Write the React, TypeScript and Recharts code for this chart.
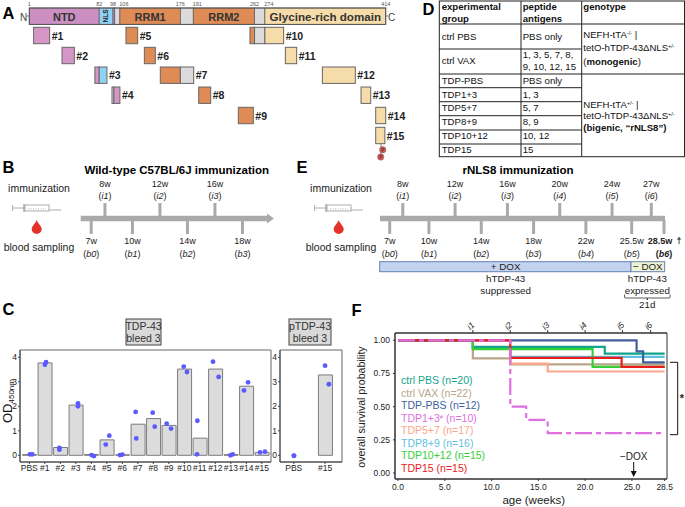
import {
  Bar,
  ComposedChart,
  Line,
  LineChart,
  ReferenceArea,
  Scatter,
  XAxis,
  YAxis,
} from "recharts";

const FONT = '"Liberation Sans", Arial, sans-serif';

// panel C: ELISA values, TDP-43 bleed 3
const peptideLabels = ["PBS", "#1", "#2", "#3", "#4", "#5", "#6", "#7", "#8", "#9", "#10", "#11", "#12", "#13", "#14", "#15"];
const peptideMeans = [0.03, 3.77, 0.32, 2.05, 0.03, 0.63, 0.02, 1.27, 1.5, 1.22, 3.52, 0.7, 3.52, 0.03, 2.82, 0.12];
const dotX = [
  0.04, 0.19, 1.01, 1.08, 1.94, 1.94, 3.14, 3.14, 4.02, 4.17, 4.93, 5.16, 5.85, 6, 6.86, 6.9,
  7.96, 8.09, 8.86, 9.14, 9.96, 10.17, 10.84, 10.82, 11.85, 12.21, 12.97, 13.12, 13.85, 14.11, 14.88, 15.2,
];
const dotY = [
  0.04, 0.04, 3.7, 3.8, 0.3, 0.23, 2.12, 2.0, 0.01, -0.03, 0.44, 0.8, 0.01, 0.03, 1.77, 0.69,
  1.74, 1.17, 1.29, 1.09, 3.62, 3.4, 1.41, 0.04, 3.82, 3.2, 0, 0.04, 2.65, 2.98, 0.12, 0.15,
];

// panel C: pTDP-43 bleed 3
const pLabels = ["PBS", "#15"];
const pMeans = [0, 3.28];
const pDotX = [0, 0.01, 1, 1.12];
const pDotY = [-0.01, -0.02, 3.66, 2.9];

// panel F: survival curves
const survivalSeries = [
  { name: "ctrl VAX (n=22)", color: "#b8a58a", t: [0, 8, 12, 28.5], s: [1, 0.864, 0.818, 0.818] },
  { name: "TDP5+7 (n=17)", color: "#fda58a", t: [0, 8, 12, 16, 28.5], s: [1, 0.941, 0.824, 0.765, 0.765] },
  { name: "TDP8+9 (n=16)", color: "#5fc0e0", t: [0, 8, 12, 28.5], s: [1, 0.938, 0.875, 0.875] },
  { name: "ctrl PBS (n=20)", color: "#12a58c", t: [0, 8, 22.1, 28.5], s: [1, 0.95, 0.9, 0.9] },
  { name: "TDP10+12 (n=15)", color: "#35d035", t: [0, 8, 20.8, 28.5], s: [1, 0.933, 0.8, 0.8] },
  { name: "TDP-PBS (n=12)", color: "#415f9e", t: [0, 25.5, 26.2, 28.5], s: [1, 0.917, 0.833, 0.833] },
  { name: "TDP15 (n=15)", color: "#ea1c1c", t: [0, 12, 23.9, 28.5], s: [1, 0.867, 0.8, 0.8] },
  { name: "TDP1+3# (n=10)", color: "#e070e0", t: [0, 12, 13.7, 16, 28.5], s: [1, 0.5, 0.4, 0.3, 0.3], dash: "17 4 5 4" },
];
const legendOrder = ["ctrl PBS (n=20)", "ctrl VAX (n=22)", "TDP-PBS (n=12)", "TDP1+3# (n=10)", "TDP5+7 (n=17)", "TDP8+9 (n=16)", "TDP10+12 (n=15)", "TDP15 (n=15)"];
const ageTicks = [0, 5, 10, 15, 20, 25, 28.5];
const immunTicks = [8, 12, 16, 20, 24, 27];
const survivalTicks = [0, 0.25, 0.5, 0.75, 1];

// panel A: TDP-43 domains in residues
const domains = [
  { from: 1, to: 82, fill: "#cc8fc2", label: "NTD" },
  { from: 82, to: 98, fill: "#8fd2f4", label: "" },
  { from: 98, to: 100, fill: "#cc8fc2", label: "" },
  { from: 100, to: 106, fill: "#dcdada", label: "" },
  { from: 106, to: 176, fill: "#de8b55", label: "RRM1" },
  { from: 176, to: 191, fill: "#dcdada", label: "" },
  { from: 191, to: 262, fill: "#de8b55", label: "RRM2" },
  { from: 262, to: 274, fill: "#dcdada", label: "" },
  { from: 274, to: 414, fill: "#f6dca8", label: "Glycine-rich domain" },
];
const domainNumbers = [1, 82, 98, 106, 176, 191, 262, 274, 414];
const PINK = "#d596c6";
const BLUE = "#8fd2f4";
const ORANGE = "#de8b55";
const GREY = "#dcdada";
const CREAM = "#f6dca8";
const peptides = [
  { label: "#1", row: 0, parts: [[6, 24.6, PINK]] },
  { label: "#2", row: 1, parts: [[38.9, 53.2, PINK]] },
  { label: "#3", row: 2, parts: [[77, 82, PINK], [82, 91, BLUE]] },
  { label: "#4", row: 3, parts: [[96.8, 99, GREY], [99, 106, PINK]] },
  { label: "#5", row: 0, parts: [[113, 126.6, ORANGE]] },
  { label: "#6", row: 1, parts: [[134.3, 147, ORANGE]] },
  { label: "#7", row: 2, parts: [[152.8, 176, ORANGE], [176, 191.5, GREY]] },
  { label: "#8", row: 3, parts: [[197.3, 211.2, ORANGE]] },
  { label: "#9", row: 4, parts: [[243.2, 260.6, ORANGE]] },
  { label: "#10", row: 0, parts: [[256.7, 262, ORANGE], [262, 274, GREY], [274, 295.7, CREAM]] },
  { label: "#11", row: 1, parts: [[297.7, 310.8, CREAM]] },
  { label: "#12", row: 2, parts: [[340.6, 378.8, CREAM]] },
  { label: "#13", row: 3, parts: [[385.4, 396.6, CREAM]] },
  { label: "#14", row: 4, parts: [[402.4, 414, CREAM]] },
  { label: "#15", row: 5, parts: [[402.4, 413, CREAM]] },
];

// panels B and E: schedules in weeks
const wtImmun = [8, 12, 16];
const wtBleed = [7, 10, 14, 18];
const rnlsImmun = [8, 12, 16, 20, 24, 27];
const rnlsBleed = [7, 10, 14, 18, 22, 25.5, 28.5];

// panel D: table text
const tableGroups = ["ctrl PBS", "ctrl VAX", "TDP-PBS", "TDP1+3", "TDP5+7", "TDP8+9", "TDP10+12", "TDP15"];
const tableAntigens = ["PBS only", "", "PBS only", "1, 3", "5, 7", "8, 9", "10, 12", "15"];
const tableBaselines = [40, 64, 84, 97.7, 111, 125, 139, 152.7];
const tableRules = [24, 49, 74, 87.7, 101.7, 115.7, 130, 144];

const barData = peptideLabels.map((label, i) => ({ x: i, od: peptideMeans[i], label }));
const dotData = dotX.map((x, i) => ({ x, od: dotY[i] }));
const pBarData = pLabels.map((label, i) => ({ x: i, od: pMeans[i], label }));
const pDotData = pDotX.map((x, i) => ({ x, od: pDotY[i] }));
const immunData = immunTicks.map((t) => ({ t, s: 1 }));

const Dot = (props: any) => <circle cx={props.cx} cy={props.cy} r={2.4} fill="#5a5aff" />;
const axisTick = { fontSize: 8.5, fill: "#222", fontFamily: FONT };

function Elisa({ left, width, yWidth, right, data, dots, labels, domain }: any) {
  return (
    <div style={{ position: "absolute", left, top: 340 }}>
      <ComposedChart width={width} height={135} data={data} margin={{ top: 10, right, bottom: 0, left: 0 }}>
        <XAxis
          xAxisId="bars"
          dataKey="x"
          type="number"
          domain={domain}
          ticks={labels.map((_: string, i: number) => i)}
          tickFormatter={(v: number) => labels[v]}
          interval={0}
          height={13}
          tick={axisTick}
          tickSize={2}
          tickMargin={1}
          stroke="#444"
        />
        <XAxis xAxisId="dots" dataKey="x" type="number" domain={domain} hide />
        <YAxis
          type="number"
          domain={[-0.273, 4.298]}
          ticks={[0, 1, 2, 3, 4]}
          width={yWidth}
          tick={axisTick}
          tickSize={2}
          tickMargin={1}
          stroke="#444"
        />
        <ReferenceArea xAxisId="bars" x1={domain[0]} x2={domain[1]} y1={-0.273} y2={4.298} fill="none" stroke="#666" strokeWidth={1} />
        <Bar xAxisId="bars" dataKey="od" barSize={14} fill="#dcdcdc" stroke="#7c7c7c" strokeWidth={1} isAnimationActive={false} />
        <Scatter xAxisId="dots" data={dots} dataKey="od" shape={Dot} isAnimationActive={false} />
      </ComposedChart>
    </div>
  );
}

function Survival() {
  return (
    <div style={{ position: "absolute", left: 345, top: 310 }}>
      <LineChart width={330} height={184} margin={{ top: 0, right: 8, bottom: 0, left: 0 }}>
        <XAxis
          xAxisId="age"
          dataKey="t"
          type="number"
          domain={[-0.32, 28.75]}
          ticks={ageTicks}
          interval={0}
          tickFormatter={(v: number) => v.toFixed(1)}
          height={15}
          tick={axisTick}
          tickSize={2}
          tickMargin={3}
          stroke="#333"
        />
        <XAxis
          xAxisId="immun"
          orientation="top"
          dataKey="t"
          type="number"
          domain={[-0.32, 28.75]}
          ticks={immunTicks}
          interval={0}
          tickFormatter={(v: number) => `i${immunTicks.indexOf(v) + 1}`}
          height={23}
          angle={-45}
          tick={{ ...axisTick, fontStyle: "italic" }}
          tickSize={3}
          tickMargin={2}
          stroke="#333"
        />
        <YAxis
          type="number"
          domain={[-0.045, 1.055]}
          ticks={survivalTicks}
          interval={0}
          tickFormatter={(v: number) => v.toFixed(2)}
          width={50}
          tick={axisTick}
          tickSize={2}
          tickMargin={3}
          stroke="#333"
        />
        <ReferenceArea xAxisId="age" x1={-0.32} x2={28.75} y1={-0.045} y2={1.055} fill="none" stroke="#333" strokeWidth={1} />
        <Line xAxisId="immun" data={immunData} dataKey="s" stroke="none" dot={false} isAnimationActive={false} />
        {survivalSeries.map((c) => (
          <Line
            key={c.name}
            xAxisId="age"
            data={c.t.map((t, i) => ({ t, s: c.s[i] }))}
            dataKey="s"
            type="stepAfter"
            stroke={c.color}
            strokeWidth={2.2}
            strokeDasharray={c.dash}
            dot={false}
            isAnimationActive={false}
          />
        ))}
      </LineChart>
    </div>
  );
}

// residue -> px for panel A
const resX = (r: number) => 29.3 + (r - 1) * 0.863;

function PanelA() {
  const rowY = [27.3, 47.3, 67, 87, 107.3, 127.3];
  return (
    <g fontFamily={FONT}>
      <text x={20} y={20.5} fontSize={10} fill="#444">N</text>
      <line x1={26.5} x2={29.3} y1={16} y2={16} stroke="#555" strokeWidth={0.8} />
      {domains.map((d) => (
        <rect key={d.from} x={resX(d.from)} y={8} width={resX(d.to) - resX(d.from)} height={16.4} fill={d.fill} stroke="#555" strokeWidth={0.7} />
      ))}
      <rect x={resX(1)} y={8} width={resX(414) - resX(1)} height={16.4} fill="none" stroke="#555" strokeWidth={1} />
      {domains.filter((d) => d.label).map((d) => (
        <text key={d.label} x={(resX(d.from) + resX(d.to)) / 2} y={20.5} fontSize={d.label.length > 5 ? 11.6 : 11} fontWeight="bold" textAnchor="middle" fill="#333">
          {d.label}
        </text>
      ))}
      <text x={0} y={0} fontSize={6.5} fontWeight="bold" textAnchor="middle" fill="#222" transform={`translate(${(resX(82) + resX(98)) / 2 + 2.2},16) rotate(-90)`}>NLS</text>
      {domainNumbers.map((n) => (
        <text key={n} x={resX(n) + (n === 106 ? 4 : n === 191 ? 4 : n === 274 ? 4 : 0)} y={6} fontSize={5.5} textAnchor="middle" fill="#555">{n}</text>
      ))}
      <line x1={385.7} x2={388} y1={16} y2={16} stroke="#555" strokeWidth={0.8} />
      <text x={388} y={20.5} fontSize={10} fill="#444">C</text>
      {peptides.map((p) => {
        const y = rowY[p.row];
        const last = p.parts[p.parts.length - 1];
        return (
          <g key={p.label}>
            {p.parts.map((part: any) => (
              <rect key={part[0]} x={resX(part[0])} y={y} width={resX(part[1]) - resX(part[0])} height={16.4} fill={part[2]} stroke="#666" strokeWidth={1} />
            ))}
            <text x={resX(last[1] as number) + 2} y={y + 12.2} fontSize={10.5} fontWeight="bold" fill="#222">{p.label}</text>
          </g>
        );
      })}
      <line x1={381} x2={381} y1={143.7} y2={156} stroke="#666" strokeWidth={0.8} />
      <circle cx={382.7} cy={149.7} r={3.2} fill="#e25a50" stroke="#666" strokeWidth={0.5} />
      <text x={382.7} y={151.5} fontSize={4.5} textAnchor="middle" fill="#222">P</text>
      <circle cx={380.7} cy={157} r={3.2} fill="#e25a50" stroke="#666" strokeWidth={0.5} />
      <text x={380.7} y={158.8} fontSize={4.5} textAnchor="middle" fill="#222">P</text>
    </g>
  );
}

function Syringe({ x }: { x: number }) {
  return (
    <g stroke="#999" strokeWidth={0.8} fill="none" transform={`translate(${x},0)`}>
      <line x1={12.5} x2={12.5} y1={205} y2={211} />
      <line x1={12.5} x2={24} y1={208} y2={208} />
      <line x1={24} x2={24} y1={204} y2={212} strokeWidth={1.2} />
      <rect x={25} y={205} width={24} height={6} />
      <line x1={28} x2={46} y1={209} y2={209} strokeDasharray="1 1.5" />
      <line x1={49} x2={61} y1={210} y2={210} />
    </g>
  );
}

function Drop({ x, y }: { x: number; y: number }) {
  return (
    <path
      d={`M${x} ${y - 7} C${x + 1.5} ${y - 3} ${x + 5} ${y - 1} ${x + 5} ${y + 2} A5 5 0 0 1 ${x - 5} ${y + 2} C${x - 5} ${y - 1} ${x - 1.5} ${y - 3} ${x} ${y - 7}Z`}
      fill="#e6302a"
    />
  );
}

function Timeline({ weekX, immun, bleed, barFrom, barTo, arrow, centre, boldLast }: any) {
  const barY = 218.5;
  return (
    <g fontFamily={FONT} fill="#222">
      <line x1={barFrom} x2={barTo} y1={barY} y2={barY} stroke="#aaa" strokeWidth={5.5} />
      {arrow && <polygon points={`${barTo},${barY - 5} ${barTo + 7},${barY} ${barTo},${barY + 5}`} fill="#aaa" />}
      {immun.map((w: number, i: number) => (
        <g key={w} textAnchor="middle">
          <line x1={weekX(w)} x2={weekX(w)} y1={203} y2={217} stroke="#aaa" strokeWidth={3} />
          <text x={weekX(w)} y={186.5} fontSize={9}>{w}w</text>
          <text x={weekX(w)} y={199} fontSize={9}>(<tspan fontStyle="italic">i{i + 1}</tspan>)</text>
        </g>
      ))}
      {bleed.map((w: number, i: number) => {
        const bold = boldLast && i === bleed.length - 1;
        return (
          <g key={w} textAnchor="middle" fontWeight={bold ? "bold" : "normal"}>
            <line x1={weekX(w)} x2={weekX(w)} y1={220} y2={234} stroke="#aaa" strokeWidth={3} />
            <text x={weekX(w) - (bold ? 4 : 0)} y={244} fontSize={9}>{w}w</text>
            <text x={weekX(w)} y={256.5} fontSize={9}>(<tspan fontStyle="italic">b{i}</tspan>)</text>
          </g>
        );
      })}
      <g fontSize={10.5} textAnchor="middle">
        <text x={centre} y={192}>immunization</text>
        <text x={centre} y={250.5}>blood sampling</text>
      </g>
      <Syringe x={centre - 39} />
      <Drop x={centre - 2.3} y={227} />
    </g>
  );
}

function PanelD() {
  const hLeft = 439.3;
  const c2 = 521;
  const c3 = 581.7;
  const right = 684.5;
  const tx = { fontSize: 9.6, fill: "#111" };
  const sup = { fontSize: 5.5, dy: -3 };
  return (
    <g fontFamily={FONT} {...tx}>
      <rect x={hLeft} y={1} width={right - hLeft} height={155.7} fill="none" stroke="#222" strokeWidth={1} />
      <line x1={c2} x2={c2} y1={1} y2={156.7} stroke="#222" />
      <line x1={c3} x2={c3} y1={1} y2={156.7} stroke="#222" />
      {tableRules.map((y) => (
        <line key={y} x1={hLeft} x2={y === 24 || y === 74 ? right : c3} y1={y} y2={y} stroke="#222" />
      ))}
      <g fontWeight="bold">
        <text x={441.7} y={10}>experimental</text>
        <text x={441.7} y={21.5}>group</text>
        <text x={522.7} y={10}>peptide</text>
        <text x={522.7} y={21.5}>antigens</text>
        <text x={583.3} y={10}>genotype</text>
      </g>
      {tableGroups.map((g, i) => (
        <text key={g} x={441.7} y={tableBaselines[i]}>{g}</text>
      ))}
      {tableAntigens.map((a, i) => (
        <text key={i} x={522.7} y={tableBaselines[i]}>{a}</text>
      ))}
      <text x={522.7} y={58}>1, 3, 5, 7, 8,</text>
      <text x={522.7} y={70}>9, 10, 12, 15</text>
      <text x={583.3} y={38}>NEFH-tTA<tspan {...sup}>-/-</tspan><tspan dy={3}> |</tspan></text>
      <text x={583.3} y={51}>tetO-hTDP-43ΔNLS<tspan {...sup}>+/-</tspan></text>
      <text x={583.3} y={65}>(<tspan fontWeight="bold">monogenic</tspan>)</text>
      <text x={583.3} y={108}>NEFH-tTA<tspan {...sup}>+/-</tspan><tspan dy={3}> |</tspan></text>
      <text x={583.3} y={119}>tetO-hTDP-43ΔNLS<tspan {...sup}>+/-</tspan></text>
      <text x={583.3} y={131} fontWeight="bold">(bigenic, “rNLS8”)</text>
    </g>
  );
}

function Annotations() {
  const wtX = (w: number) => 91.2 + (w - 7) * 13.75;
  // the last 3 weeks of the rNLS8 schedule are drawn compressed
  const rnX = (w: number) => (w > 27 ? 664 : 389.7 + (w - 7) * 13.08);
  return (
    <svg width={685} height={507} style={{ position: "absolute", left: 0, top: 0 }}>
      <g fontFamily={FONT} fontWeight="bold" fontSize={16.5} fill="#000">
        <text x={2.5} y={19}>A</text>
        <text x={2.5} y={172.7}>B</text>
        <text x={2.5} y={315}>C</text>
        <text x={422.5} y={14.7}>D</text>
        <text x={296.5} y={172.7}>E</text>
        <text x={351.5} y={315.5}>F</text>
      </g>
      <PanelA />
      <PanelD />
      <text x={176.7} y={174} fontSize={11.5} fontWeight="bold" textAnchor="middle" fontFamily={FONT}>Wild-type C57BL/6J immunization</text>
      <text x={518} y={174} fontSize={11.5} fontWeight="bold" textAnchor="middle" fontFamily={FONT}>rNLS8 immunization</text>
      <Timeline weekX={wtX} immun={wtImmun} bleed={wtBleed} barFrom={80.7} barTo={267} arrow centre={39} />
      <Timeline weekX={rnX} immun={rnlsImmun} bleed={rnlsBleed} barFrom={380} barTo={665} centre={341} boldLast />
      <g fontFamily={FONT} fontSize={9.8} textAnchor="middle" fill="#222">
        <text x={679} y={244} fontSize={9} fontWeight="bold">†</text>
        <rect x={379.7} y={261.7} width={251.3} height={10} fill="#c3d2ee" stroke="#6483b5" />
        <rect x={631} y={261.7} width={33.7} height={10} fill="#eef2d2" stroke="#6483b5" />
        <text x={505.7} y={270}>+ DOX</text>
        <text x={647.8} y={270}>− DOX</text>
        <text x={505.7} y={282}>hTDP-43</text>
        <text x={505.7} y={294}>suppressed</text>
        <text x={647.3} y={282}>hTDP-43</text>
        <text x={647.3} y={294}>expressed</text>
        <text x={647.3} y={308}>21d</text>
        <path d="M624.5 294.5v2.5q0 1 1 1h21.8v2v-2h21.8q1 0 1-1v-2.5" fill="none" stroke="#333" strokeWidth={0.8} />
      </g>
      <g fontFamily={FONT}>
        <rect x={126} y={319} width={35} height={26} fill="#d9d9d9" stroke="#444" strokeWidth={1} />
        <rect x={289} y={319} width={42} height={26} fill="#d9d9d9" stroke="#444" strokeWidth={1} />
        <g fontSize={10.5} textAnchor="middle" fill="#333">
          <text x={143.5} y={330}>TDP-43</text>
          <text x={143.5} y={342}>bleed 3</text>
          <text x={310} y={330}>pTDP-43</text>
          <text x={310} y={342}>bleed 3</text>
        </g>
        <text transform="translate(11.5,423) rotate(-90)" fontSize={13} fill="#111">
          OD<tspan fontSize={8} dy={2}>450nm</tspan>
        </text>
      </g>
      <g fontFamily={FONT} fill="#222">
        <text transform="translate(365,407) rotate(-90)" fontSize={10.6} textAnchor="middle">overall survival probability</text>
        <text x={533.7} y={504} fontSize={11.5} textAnchor="middle">age (weeks)</text>
        {legendOrder.map((name, i) => {
          const c = survivalSeries.find((s) => s.name === name)!;
          const y = 384 + i * 12.57;
          return name.includes("#") ? (
            <text key={name} x={401} y={y} fontSize={10.5} fill={c.color}>
              TDP1+3<tspan fontSize={6} dy={-3}>#</tspan><tspan dy={3}> (n=10)</tspan>
            </text>
          ) : (
            <text key={name} x={401} y={y} fontSize={10.5} fill={c.color}>{name}</text>
          );
        })}
        <text x={633.7} y={460} fontSize={10} textAnchor="middle">−DOX</text>
        <line x1={633.7} x2={633.7} y1={462} y2={472} stroke="#111" strokeWidth={1} />
        <polygon points="630.7,471 636.7,471 633.7,477" fill="#111" />
        <path d="M670 362.3H677.7V434.7H670" fill="none" stroke="#111" strokeWidth={1} />
        <text x={682} y={402} fontSize={11} textAnchor="middle" fontWeight="bold">*</text>
      </g>
    </svg>
  );
}

export default function App() {
  return (
    <div style={{ position: "absolute", left: 0, top: 0, width: 685, height: 507, background: "#fff", overflow: "hidden" }}>
      <Annotations />
      <Elisa left={0} width={280} yWidth={20} right={9} data={barData} dots={dotData} labels={peptideLabels} domain={[-0.6, 15.59]} />
      <Elisa left={272} width={72} yWidth={8} right={2} data={pBarData} dots={pDotData} labels={pLabels} domain={[-0.44, 1.54]} />
      <Survival />
    </div>
  );
}
